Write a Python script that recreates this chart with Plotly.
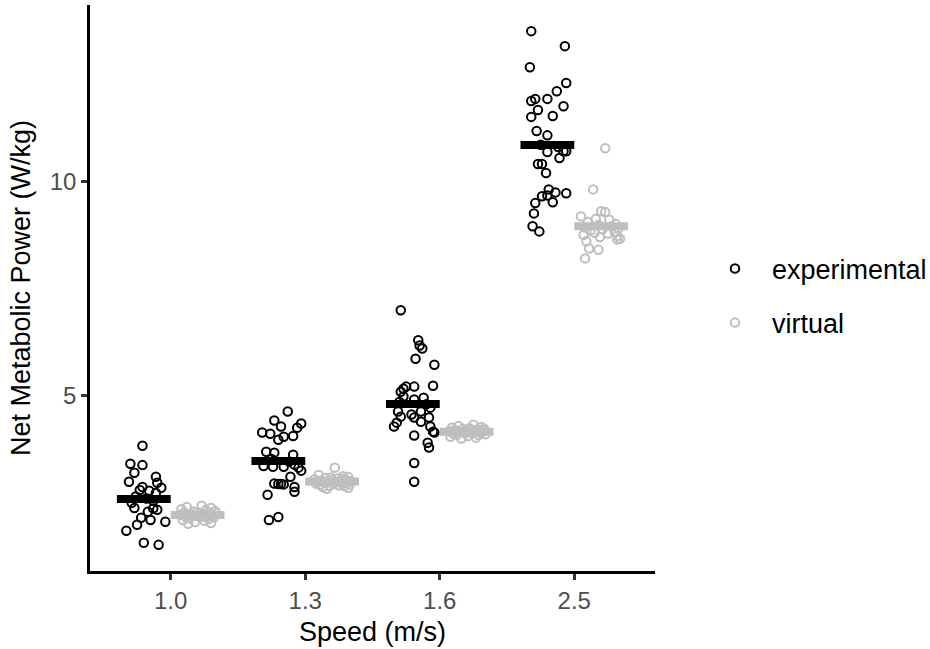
import plotly.graph_objects as go

# ---------------- data ----------------
speeds = ["1.0", "1.3", "1.6", "2.5"]
groups = ["experimental", "virtual"]

exp_10 = [3.83, 3.41, 3.38, 3.20, 3.11, 2.99, 2.97, 2.85, 2.87, 2.80, 2.78, 2.73, 2.65, 2.60,
          2.55, 2.50, 2.38, 2.37, 2.34, 2.29, 2.15, 2.10, 2.06, 1.99, 1.85, 1.57, 1.52]
exp_10_jit = [-0.01, -0.10, -0.01, -0.07, 0.09, -0.11, 0.10, 0.13, -0.01, -0.03, 0.04, 0.09, -0.06, 0.02,
              0.07, -0.09, -0.07, 0.07, 0.10, 0.03, -0.02, 0.05, 0.16, -0.05, -0.13, 0.00, 0.11]

exp_13 = [4.63, 4.42, 4.28, 4.35, 4.25, 4.14, 4.11, 4.04, 4.06, 3.97, 3.69, 3.67, 3.62, 3.52, 3.46,
          3.36, 3.34, 3.34, 3.39, 3.32, 3.25, 3.11, 2.94, 2.94, 2.95, 2.93, 2.87, 2.76, 2.69, 2.10, 2.17]
exp_13_jit = [0.07, -0.03, 0.02, 0.17, 0.14, -0.12, -0.06, 0.04, 0.11, 0.00, -0.09, -0.03, 0.11, -0.05, 0.08,
              -0.11, -0.04, 0.04, 0.12, 0.15, 0.17, 0.09, 0.00, 0.02, -0.03, 0.04, 0.12, 0.12, -0.08, -0.07, 0.00]

exp_16 = [6.99, 6.29, 6.17, 6.10, 5.86, 5.72, 5.23, 5.16, 5.09, 5.21, 5.21, 4.98, 4.91, 4.95, 4.85, 4.80,
          4.72, 4.63, 4.51, 4.56, 4.63, 4.49, 4.49, 4.39, 4.37, 4.28, 4.28, 4.16, 4.14, 4.07, 3.90, 3.79,
          3.43, 2.99]
exp_16_jit = [-0.09, 0.04, 0.05, 0.07, 0.02, 0.16, 0.15, -0.07, -0.09, -0.05, 0.01, -0.07, 0.01, 0.08, -0.10, 0.10,
              0.13, -0.11, -0.09, -0.01, 0.06, 0.01, 0.12, 0.06, -0.12, -0.14, 0.13, 0.15, 0.16, 0.01, 0.11, 0.12,
              0.01, 0.01]

exp_25 = [13.50, 13.15, 12.66, 12.29, 12.10, 11.92, 11.92, 11.87, 11.75, 11.66, 11.50, 11.52, 11.17, 11.07,
          10.85, 10.80, 10.68, 10.70, 10.70, 10.54, 10.40, 10.40, 10.19, 9.81, 9.74, 9.72, 9.65, 9.67,
          9.51, 9.49, 9.25, 8.95, 8.83]
exp_25_jit = [-0.12, 0.13, -0.13, 0.14, 0.07, 0.00, -0.09, -0.12, 0.12, -0.07, -0.12, 0.04, -0.08, 0.00,
              -0.05, 0.08, 0.00, 0.12, 0.14, 0.09, -0.07, -0.04, -0.01, 0.01, 0.06, 0.14, -0.04, 0.00,
              0.04, -0.09, -0.10, -0.11, -0.06]

vir_10 = [2.43, 2.40, 2.38, 2.35, 2.33, 2.31, 2.30, 2.28, 2.27, 2.26, 2.25, 2.24, 2.23, 2.22,
          2.21, 2.20, 2.19, 2.18, 2.17, 2.16, 2.14, 2.12, 2.10, 2.08, 2.05, 2.03, 2.01]
vir_10_jit = [0.03, -0.08, 0.10, -0.12, 0.06, 0.13, -0.03, 0.00, -0.10, 0.09, 0.14, -0.05, 0.04, -0.13,
              0.11, -0.01, 0.07, -0.09, 0.02, 0.12, -0.06, 0.08, -0.11, 0.05, -0.02, 0.10, -0.07]

vir_13 = [3.32, 3.15, 3.12, 3.10, 3.08, 3.07, 3.05, 3.04, 3.03, 3.02, 3.01, 3.00, 3.00, 2.99, 2.98,
          2.97, 2.97, 2.96, 2.95, 2.94, 2.93, 2.92, 2.91, 2.90, 2.89, 2.87, 2.85, 2.83, 3.06, 3.09]
vir_13_jit = [0.02, -0.10, 0.08, 0.12, -0.05, 0.04, -0.13, 0.10, 0.00, -0.08, 0.14, 0.06, -0.11, 0.03, -0.03,
              0.11, -0.06, 0.07, -0.12, 0.01, 0.13, -0.09, 0.05, -0.02, 0.09, -0.07, 0.12, -0.04, 0.08, -0.01]

vir_16 = [4.32, 4.29, 4.27, 4.25, 4.24, 4.23, 4.22, 4.21, 4.20, 4.19, 4.18, 4.17, 4.16, 4.15,
          4.14, 4.13, 4.12, 4.11, 4.10, 4.09, 4.08, 4.06, 4.04, 4.02, 4.00, 4.20, 4.17, 4.14]
vir_16_jit = [0.05, -0.06, 0.11, -0.11, 0.02, 0.13, -0.03, 0.08, -0.09, 0.00, 0.12, -0.13, 0.06, -0.05,
              0.10, -0.01, 0.04, -0.10, 0.14, -0.07, 0.09, 0.01, -0.12, 0.07, -0.04, 0.03, -0.08, 0.11]

vir_25 = [10.77, 9.81, 9.30, 9.28, 9.18, 9.12, 9.10, 9.05, 9.00, 8.98, 8.95, 8.92, 8.90, 8.88,
          8.85, 8.82, 8.80, 8.78, 8.75, 8.72, 8.70, 8.66, 8.64, 8.60, 8.43, 8.40, 8.20]
vir_25_jit = [0.03, -0.06, 0.00, 0.03, -0.15, -0.04, 0.06, -0.10, 0.11, -0.02, 0.08, -0.12, 0.13, 0.01,
              -0.08, 0.10, -0.05, 0.05, -0.13, 0.12, -0.01, 0.14, 0.12, -0.11, -0.09, -0.02, -0.12]

exp_values = [exp_10, exp_13, exp_16, exp_25]
exp_jitter = [exp_10_jit, exp_13_jit, exp_16_jit, exp_25_jit]
vir_values = [vir_10, vir_13, vir_16, vir_25]
vir_jitter = [vir_10_jit, vir_13_jit, vir_16_jit, vir_25_jit]

# ---------------- figure ----------------
DODGE = 0.2
colors = {"experimental": "#000000", "virtual": "#BEBEBE"}

fig = go.Figure()

def add_group(name, values, jitter, offset):
    xs, ys = [], []
    for i, (vals, jit) in enumerate(zip(values, jitter)):
        xs += [i + offset + j for j in jit]
        ys += vals
    fig.add_trace(go.Scatter(
        x=xs, y=ys, mode="markers", name=name, legendgroup=name,
        marker=dict(symbol="circle-open", size=8.5, color=colors[name],
                    line=dict(width=2, color=colors[name])),
        hoverinfo="skip"))

def add_means(name, values, offset):
    xs, ys = [], []
    for i, vals in enumerate(values):
        m = sum(vals) / len(vals)
        xs += [i + offset - DODGE, i + offset + DODGE, None]
        ys += [m, m, None]
    fig.add_trace(go.Scatter(
        x=xs, y=ys, mode="lines", showlegend=False, legendgroup=name,
        line=dict(color=colors[name], width=8), hoverinfo="skip"))

add_group("experimental", exp_values, exp_jitter, -DODGE)
add_group("virtual", vir_values, vir_jitter, DODGE)
add_means("experimental", exp_values, -DODGE)
add_means("virtual", vir_values, DODGE)

axis_common = dict(
    showline=True, linecolor="#000000", linewidth=2.5,
    ticks="outside", ticklen=6, tickwidth=2.5, tickcolor="#333333",
    showgrid=False, zeroline=False, mirror=False,
    tickfont=dict(family="Liberation Sans, Arial, sans-serif", size=24, color="#4D4D4D"),
)

fig.update_layout(
    width=930, height=649,
    margin=dict(l=90, r=275, t=5, b=78),
    paper_bgcolor="white", plot_bgcolor="white",
    font=dict(family="Liberation Sans, Arial, sans-serif", color="#000000"),
    xaxis=dict(
        range=[-0.6, 3.6], tickmode="array", tickvals=list(range(len(speeds))), ticktext=speeds,
        title=dict(text="Speed (m/s)", font=dict(size=27, color="#000000"), standoff=10),
        automargin=False, **axis_common),
    yaxis=dict(
        range=[0.91, 14.11], tickmode="array", tickvals=[5, 10], ticktext=["5", "10"],
        title=dict(text="Net Metabolic Power (W/kg)", font=dict(size=27, color="#000000"), standoff=12),
        automargin=False, **axis_common),
    legend=dict(
        xref="container", yref="container", x=0.7505, y=0.544, xanchor="left", yanchor="middle",
        font=dict(size=27, color="#000000"), bgcolor="rgba(0,0,0,0)",
        traceorder="grouped", tracegroupgap=16, itemsizing="trace", itemwidth=64),
    showlegend=True,
)

fig.write_html("out.html", config={"displayModeBar": False},
               post_script="document.body.style.margin='0';")
